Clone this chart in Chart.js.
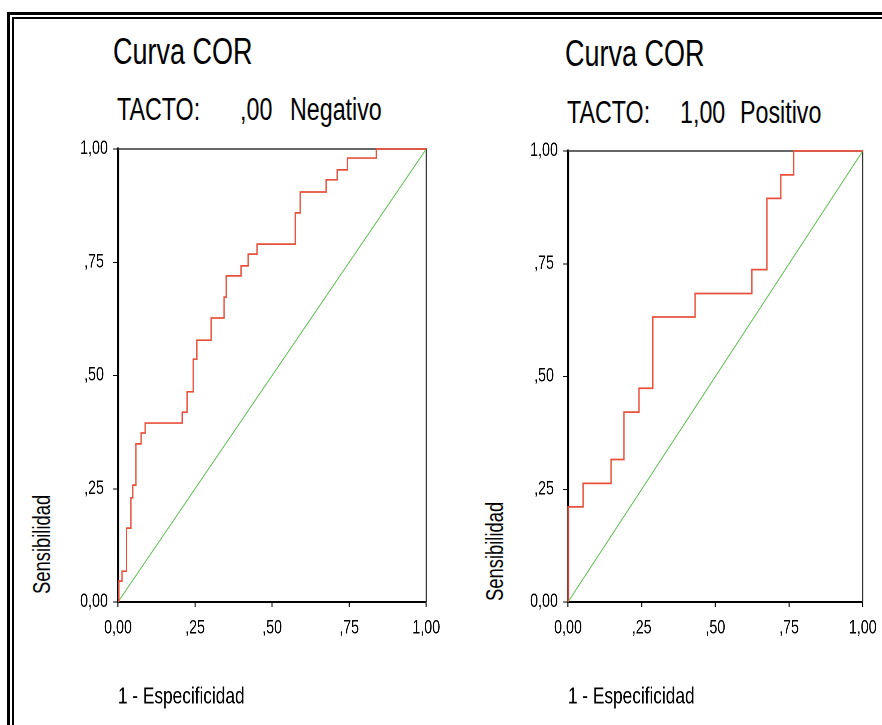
<!DOCTYPE html>
<html lang="es">
<head>
  <meta charset="UTF-8"/>
  <title>Curva COR – TACTO</title>
  <script src="https://cdn.jsdelivr.net/npm/chart.js"></script>
  <style>
    body { margin: 0; background: #fff; }
    #page {
      position: relative;
      width: 882px;
      height: 725px;
      overflow: hidden;
      background: #fff;
      color: #000;
      font-family: "Liberation Sans", Arial, sans-serif;
    }
    .frame-out, .frame-in { position: absolute; right: -20px; bottom: -20px; }
    .frame-out { left: 7px; top: 12px; border-left: 3px solid #000; border-top: 3px solid #000; }
    .frame-in { left: 12px; top: 17px; border-left: 2px solid #000; border-top: 2px solid #000; }
    /* the original lettering is condensed */
    .txt {
      position: absolute;
      white-space: nowrap;
      line-height: 1;
      transform-origin: left center;
      transform: scaleX(0.75);
    }
    .title { font-size: 36px; }
    .sub { font-size: 31px; }
    .ytitle {
      position: absolute;
      white-space: nowrap;
      line-height: 1;
      font-size: 23px;
      transform-origin: left top;
      transform: rotate(-90deg) scaleX(0.8);
    }
    canvas { position: absolute; transform-origin: left top; transform: scaleX(0.75); }
  </style>
</head>
<body>
  <div id="page">
    <div class="frame-out"></div>
    <div class="frame-in"></div>

    <div class="txt title" style="left:113px; top:34px;">Curva COR</div>
    <div class="txt sub" style="left:117px; top:94px;">TACTO:</div>
    <div class="txt sub" style="left:240px; top:94px;">,00</div>
    <div class="txt sub" style="left:290px; top:94px;">Negativo</div>
    <div class="ytitle" style="left:31px; top:594px;">Sensibilidad</div>

    <div class="txt title" style="left:565px; top:36px;">Curva COR</div>
    <div class="txt sub" style="left:567px; top:97px;">TACTO:</div>
    <div class="txt sub" style="left:680px; top:97px;">1,00</div>
    <div class="txt sub" style="left:740px; top:97px;">Positivo</div>
    <div class="ytitle" style="left:484px; top:601px;">Sensibilidad</div>

    <canvas id="rocNeg" width="587" height="595" style="left:20px; top:130px;"></canvas>
    <canvas id="rocPos" width="549" height="595" style="left:470px; top:130px;"></canvas>
  </div>

  <script>
    const SQUEEZE = 0.75; // canvases are squeezed horizontally by CSS, like the condensed original

    const tickValues = [0, 0.25, 0.5, 0.75, 1];
    const tickLabels = ["0,00", ",25", ",50", ",75", "1,00"];

    // TACTO = ,00 (Negativo) – ROC corner points, each step goes up then across
    const negFpr = [0.003, 0.013, 0.028, 0.042, 0.048, 0.058, 0.075, 0.088, 0.208, 0.224, 0.244, 0.256, 0.302,
                    0.344, 0.351, 0.399, 0.422, 0.451, 0.575, 0.591, 0.675, 0.711, 0.744, 0.838, 1.0];
    const negTpr = [0, 0.046, 0.068, 0.163, 0.230, 0.258, 0.349, 0.373, 0.395, 0.419, 0.464, 0.536, 0.578,
                    0.627, 0.673, 0.720, 0.742, 0.768, 0.790, 0.859, 0.905, 0.932, 0.954, 0.980, 1.0];

    // TACTO = 1,00 (Positivo)
    const posFpr = [0, 0.051, 0.146, 0.190, 0.241, 0.288, 0.431, 0.624, 0.675, 0.722, 0.766, 1.0];
    const posTpr = [0, 0.211, 0.263, 0.316, 0.421, 0.474, 0.632, 0.684, 0.737, 0.895, 0.947, 1.0];

    // reference diagonal
    const diagonal = [0, 1];

    const RED = "#e8503c";
    const GREEN = "#66c45a";
    const FONT = "'Liberation Sans', Arial, sans-serif";

    // thin top/right edge of the plot box
    const plotBox = {
      id: "plotBox",
      beforeDatasetsDraw(chart) {
        const { ctx, chartArea: a } = chart;
        ctx.save();
        ctx.strokeStyle = "#333";
        ctx.lineWidth = 1.6;
        ctx.beginPath();
        ctx.moveTo(a.left, a.top);
        ctx.lineTo(a.right, a.top);
        ctx.lineTo(a.right, a.bottom);
        ctx.stroke();
        ctx.restore();
      }
    };

    function axis(horizontal) {
      const opts = {
        type: "linear",
        min: 0,
        max: 1,
        afterBuildTicks: s => { s.ticks = tickValues.map(v => ({ value: v })); },
        // let the layout padding alone decide where the plot box sits
        afterFit: s => {
          if (horizontal) {
            s.height = 123;
            s.paddingLeft = 0;
            s.paddingRight = 0;
          } else {
            s.width = 98 / SQUEEZE;
            s.paddingTop = 0;
            s.paddingBottom = 0;
          }
        },
        ticks: {
          callback: (v, i) => tickLabels[i],
          autoSkip: false,
          maxRotation: 0,
          padding: horizontal ? 10 : 7,
          crossAlign: horizontal ? "near" : "center",
          color: "#000",
          font: { family: FONT, size: 19 }
        },
        grid: {
          drawOnChartArea: false,
          tickLength: horizontal ? 5 : 6.5,
          tickColor: "#000",
          tickWidth: horizontal ? 1.4 : 1
        },
        border: { color: "#000", width: horizontal ? 2 : 2.7 },
        title: { display: false }
      };
      if (horizontal) {
        opts.title = {
          display: true,
          text: "1 - Especificidad",
          align: "start",
          color: "#000",
          font: { family: FONT, size: 23 },
          padding: { bottom: 14 }
        };
      }
      return opts;
    }

    function rocChart(id, fpr, tpr, padTop, padRight) {
      new Chart(document.getElementById(id), {
        type: "line",
        data: {
          datasets: [
            {
              data: fpr.map((x, i) => ({ x, y: tpr[i] })),
              borderColor: RED,
              borderWidth: 1.7,
              stepped: "after",
              pointRadius: 0,
              fill: false,
              clip: 4
            },
            {
              data: diagonal.map(v => ({ x: v, y: v })),
              borderColor: GREEN,
              borderWidth: 1.3,
              pointRadius: 0,
              fill: false,
              clip: 4
            }
          ]
        },
        options: {
          responsive: false,
          animation: false,
          devicePixelRatio: 2,
          events: [],
          layout: { padding: { top: padTop, right: padRight / SQUEEZE, left: 0, bottom: 0 } },
          plugins: { legend: { display: false }, tooltip: { enabled: false } },
          scales: { x: axis(true), y: axis(false) }
        },
        plugins: [plotBox]
      });
    }

    rocChart("rocNeg", negFpr, negTpr, 19, 34);
    rocChart("rocPos", posFpr, posTpr, 21, 19);
  </script>
</body>
</html>
